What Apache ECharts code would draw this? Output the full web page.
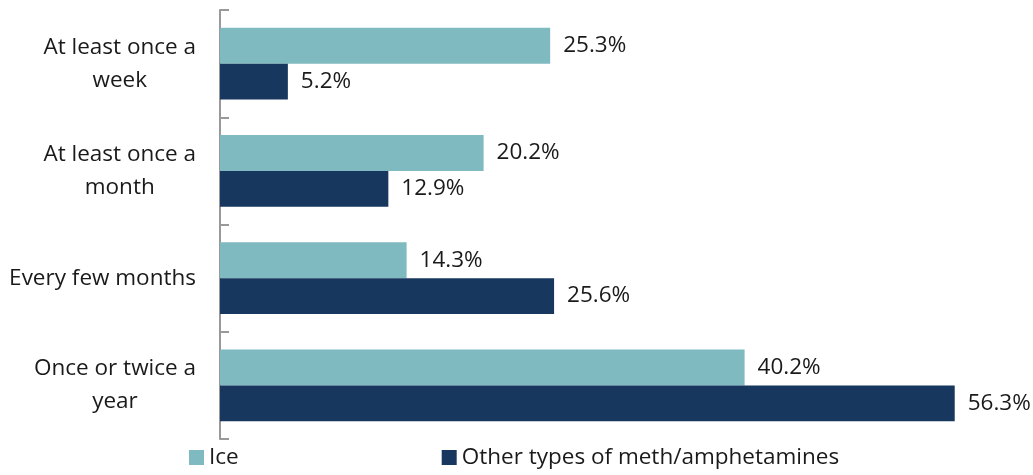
<!DOCTYPE html>
<html><head><meta charset="utf-8">
<script src="https://cdn.jsdelivr.net/npm/echarts@6/dist/echarts.min.js"></script>
<style>html,body{margin:0;padding:0;background:#fff}#c{width:1033px;height:475px}</style>
</head><body><div id="c"></div>
<script>
const categories = ["At least once a\nweek", "At least once a\nmonth", "Every few months", "Once or twice a\nyear"];
const iceValues = [25.3, 20.2, 14.3, 40.2];
const otherValues = [5.2, 12.9, 25.6, 56.3];
const seriesNames = ["Ice", "Other types of meth/amphetamines"];

const font = "'Open Sans', 'Noto Sans', sans-serif";
const fs = 22.5;
const chart = echarts.init(document.getElementById('c'), null, {renderer: 'canvas'});
const labelCfg = {show: true, position: 'right', distance: 13, color: '#1a1a1a', fontSize: fs, fontFamily: font,
  formatter: p => p.value.toFixed(1) + '%'};
chart.setOption({
  animation: false,
  grid: {left: 220, top: 10, bottom: 36, right: 30, containLabel: false},
  legend: {bottom: 1, left: 184, itemWidth: 15, itemHeight: 15, itemGap: 203, icon: 'rect',
    textStyle: {fontSize: 22.5, fontFamily: font, color: '#1a1a1a'}, data: seriesNames},
  xAxis: {type: 'value', min: 0, max: 60, show: false},
  yAxis: {type: 'category', data: categories, inverse: true,
    axisLine: {show: true, lineStyle: {color: '#999', width: 2}},
    axisTick: {show: true, inside: true, length: 9, lineStyle: {color: '#999', width: 2}},
    axisLabel: {margin: 24, fontSize: fs, fontFamily: font, color: '#1a1a1a', align: 'right',
      formatter: v => v.split('\n').map(s => '{c|' + s + '}').join('\n'),
      rich: {c: {align: 'center', fontSize: fs, fontFamily: font, color: '#1a1a1a', lineHeight: 33}}}},
  series: [
    {name: seriesNames[0], type: 'bar', data: iceValues, barGap: '0%', barCategoryGap: '33%',
      itemStyle: {color: '#7fbac1'}, label: labelCfg},
    {name: seriesNames[1], type: 'bar', data: otherValues, barGap: '0%', barCategoryGap: '33%',
      itemStyle: {color: '#17375e'}, label: labelCfg}
  ]
});
</script></body></html>
